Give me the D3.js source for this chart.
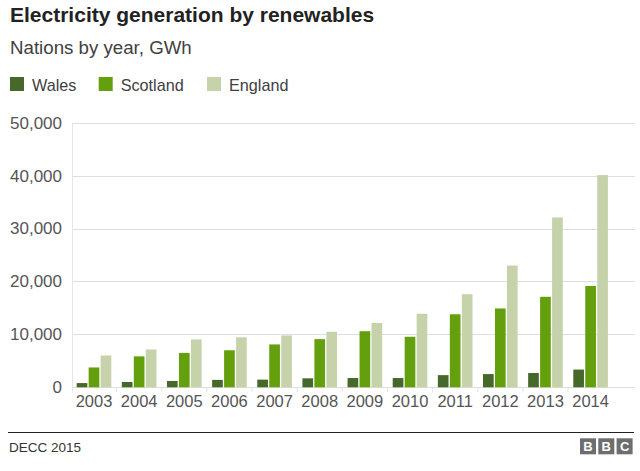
<!DOCTYPE html>
<html>
<head>
<meta charset="utf-8">
<script src="https://cdn.jsdelivr.net/npm/d3@7"></script>
<style>
  body { margin: 0; background: #fff; }
  svg { display: block; font-family: "Liberation Sans", Arial, Helvetica, sans-serif; }
</style>
</head>
<body>
<svg id="chart" width="640" height="471"></svg>
<script>
const years = ["2003", "2004", "2005", "2006", "2007", "2008", "2009", "2010", "2011", "2012", "2013", "2014"];
const series = ["Wales", "Scotland", "England"];
const wales = [800, 1000, 1200, 1400, 1450, 1700, 1750, 1750, 2300, 2500, 2700, 3350];
const scotland = [3750, 5850, 6500, 7000, 8100, 9100, 10600, 9550, 13800, 14900, 17100, 19150];
const england = [6000, 7150, 9050, 9450, 9800, 10500, 12150, 13900, 17600, 23000, 32100, 40100];
const yTicks = [0, 10000, 20000, 30000, 40000, 50000];

const values = { Wales: wales, Scotland: scotland, England: england };
const colors = { Wales: "#46692b", Scotland: "#64a00e", England: "#c6d3aa" };

const svg = d3.select("#chart");

const plotLeft = 72, plotRight = 635, plotTop = 122.7, plotBottom = 387.3;

const x0 = d3.scaleBand().domain(years).range([71.4, 613.2]).paddingInner(0.233).paddingOuter(0.117);
const x1 = d3.scaleBand().domain(series).range([0, x0.bandwidth()]).paddingInner(0.108);
const y = d3.scaleLinear().domain([0, 50000]).range([plotBottom, plotTop]);

// title block
svg.append("text").attr("x", 10).attr("y", 21.7)
  .style("font-size", "21px").style("font-weight", "bold").attr("fill", "#222")
  .text("Electricity generation by renewables");
svg.append("text").attr("x", 10).attr("y", 53.5)
  .style("font-size", "18.7px").attr("fill", "#404040")
  .text("Nations by year, GWh");

// legend
const legendX = [10, 98.7, 207];
series.forEach((s, i) => {
  const g = svg.append("g").attr("transform", `translate(${legendX[i]},77)`);
  g.append("rect").attr("width", 14).attr("height", 14).attr("fill", colors[s]);
  g.append("text").attr("x", 22).attr("y", 14).style("font-size", "16.2px").attr("fill", "#404040").text(s);
});

// gridlines
svg.append("g").selectAll("line").data(yTicks).join("line")
  .attr("x1", plotLeft).attr("x2", plotRight)
  .attr("y1", d => Math.round(y(d)) + 0.5).attr("y2", d => Math.round(y(d)) + 0.5)
  .attr("stroke", "#dedede").attr("stroke-width", 1);

svg.append("line").attr("x1", plotLeft + 0.5).attr("x2", plotLeft + 0.5)
  .attr("y1", plotTop).attr("y2", plotBottom + 5)
  .attr("stroke", "#e6e6e6");

// y axis labels
const yAxis = svg.append("g").attr("transform", `translate(${plotLeft},0)`)
  .call(d3.axisLeft(y).tickValues(yTicks).tickSize(0).tickPadding(10).tickFormat(d3.format(",")));
yAxis.select(".domain").remove();
yAxis.selectAll("text").style("font-size", "17px").attr("fill", "#555")
  .style("font-family", "'Liberation Sans', Arial, Helvetica, sans-serif");

// x tick marks between groups
const step = x0.step();
svg.append("g").selectAll("line").data(years.slice(1)).join("line")
  .attr("x1", d => x0(d) - (step - x0.bandwidth()) / 2)
  .attr("x2", d => x0(d) - (step - x0.bandwidth()) / 2)
  .attr("y1", plotBottom).attr("y2", plotBottom + 5)
  .attr("stroke", "#e2e2e2");

// bars
const groups = svg.append("g").selectAll("g").data(years).join("g")
  .attr("transform", d => `translate(${x0(d)},0)`);
groups.selectAll("rect").data((d, i) => series.map(s => ({ key: s, value: values[s][i] }))).join("rect")
  .attr("x", d => x1(d.key))
  .attr("width", x1.bandwidth())
  .attr("y", d => y(d.value))
  .attr("height", d => y(0) - y(d.value))
  .attr("fill", d => colors[d.key]);

// x axis labels
const xAxis = svg.append("g").attr("transform", `translate(0,${plotBottom})`)
  .call(d3.axisBottom(x0).tickSize(0).tickPadding(8));
xAxis.select(".domain").remove();
xAxis.selectAll("text").style("font-size", "16.5px").attr("fill", "#555")
  .style("font-family", "'Liberation Sans', Arial, Helvetica, sans-serif");

// footer
svg.append("line").attr("x1", 8).attr("x2", 634).attr("y1", 432.5).attr("y2", 432.5)
  .attr("stroke", "#222").attr("stroke-width", 1.2);
svg.append("text").attr("x", 9).attr("y", 451.5)
  .style("font-size", "13.5px").attr("fill", "#333").text("DECC 2015");

const logo = svg.append("g").attr("transform", "translate(580,438.3)");
["B", "B", "C"].forEach((l, i) => {
  logo.append("rect").attr("x", i * 18.3).attr("width", 16).attr("height", 16).attr("fill", "#6e6e6e");
  logo.append("text").attr("x", i * 18.3 + 8).attr("y", 13).attr("text-anchor", "middle")
    .style("font-size", "13px").style("font-weight", "bold").attr("fill", "#fff").text(l);
});
</script>
</body>
</html>
